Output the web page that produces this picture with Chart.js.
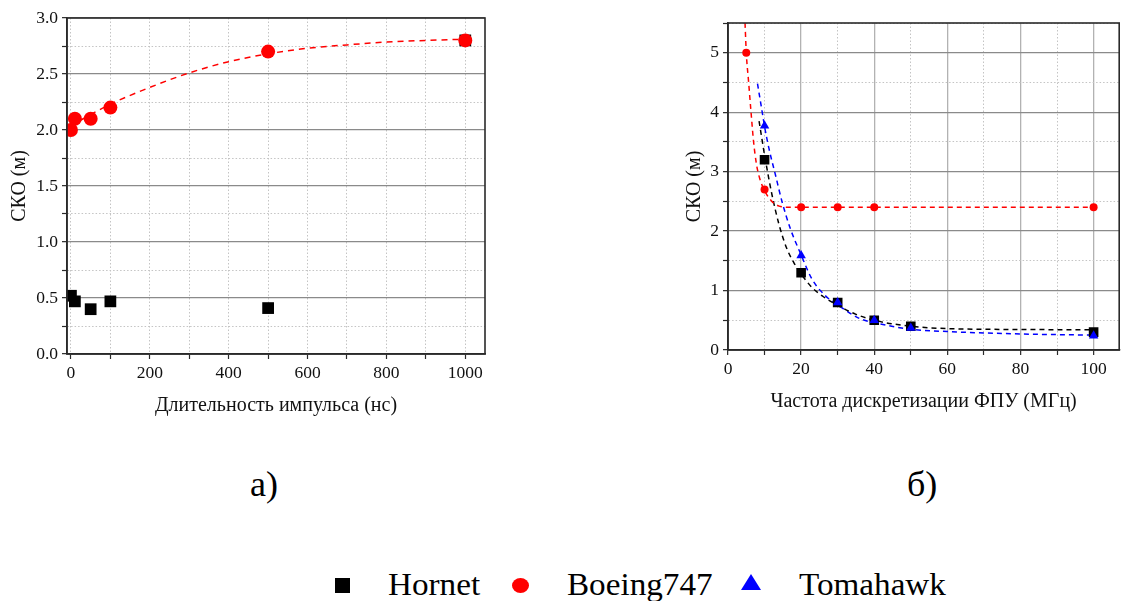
<!DOCTYPE html>
<html>
<head>
<meta charset="utf-8">
<script src="https://cdn.jsdelivr.net/npm/chart.js@4/dist/chart.umd.min.js"></script>
<style>
    html, body { margin: 0; padding: 0; background: #fff; }
    body {
        width: 1126px; height: 601px; position: relative; overflow: hidden;
        font-family: "Liberation Serif", "Times New Roman", serif; color: #000;
    }
    #leftChart { position: absolute; left: 0; top: 0; }
    #rightChart { position: absolute; left: 660px; top: 0; }
    .panel { position: absolute; top: 466px; font-size: 36px; line-height: 1; white-space: nowrap; }
    .leg-text {
        position: absolute; top: 569px; font-size: 31px; line-height: 1; white-space: nowrap;
        transform: scaleX(1.07); transform-origin: left top;
    }
    .mark { position: absolute; }
</style>
</head>
<body>
<canvas id="leftChart" width="510" height="430"></canvas>
<canvas id="rightChart" width="466" height="430"></canvas>

<div class="panel" style="left:250px;">а)</div>
<div class="panel" style="left:907px;">б)</div>

<div class="mark" style="left:335px; top:578px; width:15px; height:15px; background:#000;"></div>
<div class="leg-text" style="left:388px;">Hornet</div>
<div class="mark" style="left:512px; top:578px; width:17px; height:15px; border-radius:50%; background:#ff0000;"></div>
<div class="leg-text" style="left:567px;">Boeing747</div>
<div class="mark" style="left:741px; top:574px; width:0; height:0; border-left:10.5px solid transparent; border-right:10.5px solid transparent; border-bottom:16px solid #0000ff;"></div>
<div class="leg-text" style="left:799px;">Tomahawk</div>

<script>
// --- panel a): pulse duration (ns) ---
const pulseX = [0, 10, 50, 100, 500, 1000];
const hornetPulse = [0.52, 0.47, 0.40, 0.47, 0.41, 2.80];
const boeingPulse = [2.00, 2.10, 2.10, 2.20, 2.70, 2.80];
const boeingPulseFitX = [0, 100, 200, 300, 400, 500, 600, 700, 800, 900, 1000];
const boeingPulseFitY = [2.04, 2.23, 2.38, 2.51, 2.61, 2.68, 2.73, 2.76, 2.785, 2.80, 2.81];

// --- panel б): sampling frequency (MHz) ---
const freqX = [10, 20, 30, 40, 50, 100];
const hornetFreq = [3.2, 1.3, 0.8, 0.5, 0.4, 0.3];
const tomahawkFreq = [3.77, 1.59, 0.8, 0.5, 0.37, 0.24];
const boeingFreqX = [5, 10, 20, 30, 40, 100];
const boeingFreq = [5.0, 2.7, 2.4, 2.4, 2.4, 2.4];

const boeingFreqFitX = [4.66, 5, 5.65, 6.3, 7, 7.8, 8.7, 10, 12, 14, 17, 100];
const boeingFreqFitY = [5.5, 5.0, 4.5, 4.0, 3.5, 3.12, 2.88, 2.68, 2.5, 2.42, 2.4, 2.4];
const hornetFreqFitX = [8.5, 10, 12, 14, 16, 18, 20, 23, 26, 30, 35, 40, 50, 60, 80, 100];
const hornetFreqFitY = [3.85, 3.28, 2.62, 2.1, 1.72, 1.47, 1.28, 1.05, 0.9, 0.75, 0.6, 0.5, 0.4, 0.36, 0.345, 0.34];
const tomahawkFreqFitX = [8.07, 9.2, 10, 11.2, 13, 14.8, 17, 20, 22.9, 26.5, 30, 36, 40, 50, 60, 80, 100];
const tomahawkFreqFitY = [4.48, 4.06, 3.76, 3.39, 2.94, 2.49, 2.05, 1.6, 1.2, 0.92, 0.76, 0.53, 0.46, 0.35, 0.31, 0.27, 0.25];

// tick positions (labelled = major)
const leftXTicks = [0, 100, 200, 300, 400, 500, 600, 700, 800, 900, 1000];
const leftXLabeled = [0, 200, 400, 600, 800, 1000];
const leftYTicks = [0, 0.25, 0.5, 0.75, 1, 1.25, 1.5, 1.75, 2, 2.25, 2.5, 2.75, 3];
const leftYLabeled = [0, 0.5, 1, 1.5, 2, 2.5, 3];
const rightXTicks = [0, 10, 20, 30, 40, 50, 60, 70, 80, 90, 100];
const rightXLabeled = [0, 20, 40, 60, 80, 100];
const rightYTicks = [0, 0.5, 1, 1.5, 2, 2.5, 3, 3.5, 4, 4.5, 5, 5.5];
const rightYLabeled = [0, 1, 2, 3, 4, 5];

const SERIF = '"Liberation Serif", "Times New Roman", serif';
Chart.defaults.font.family = SERIF;
Chart.defaults.color = '#111';

const zip = (xs, ys) => xs.map((x, i) => ({ x: x, y: ys[i] }));

// draws the box round the plot area
const framePlugin = {
    id: 'frame',
    afterDatasetsDraw(chart) {
        const { ctx, chartArea: a } = chart;
        ctx.save();
        ctx.strokeStyle = '#2a2a2a';
        ctx.lineWidth = 1.6;
        ctx.strokeRect(a.left, a.top, a.right - a.left, a.bottom - a.top);
        ctx.restore();
    }
};

function axis(o) {
    return {
        type: 'linear',
        min: o.min,
        max: o.max,
        afterBuildTicks: s => {
            s.ticks = o.ticks.map(v => ({ value: v, major: o.labeled.includes(v) }));
        },
        afterFit: s => {
            if (o.width) s.width = o.width;
            if (o.height) s.height = o.height;
        },
        ticks: {
            autoSkip: false,
            maxRotation: 0,
            padding: 4,
            color: '#111',
            font: { family: SERIF, size: 17.5 },
            callback: (v, i, t) => (t[i] && t[i].major) ? o.fmt(v) : ''
        },
        grid: {
            color: c => (c.tick && c.tick.major && o.solid) ? o.majorColor : '#c4c4c4',
            lineWidth: c => (c.tick && c.tick.major && o.solid) ? 1.3 : 1,
            tickLength: 5,
            tickColor: '#2a2a2a',
            tickWidth: 1.2,
            tickBorderDash: []
        },
        border: {
            display: true,
            color: '#2a2a2a',
            width: 1.6,
            dash: c => (c.tick && c.tick.major && o.solid) ? [] : [1.5, 2]
        },
        title: {
            display: true,
            text: o.title,
            color: '#111',
            font: { family: SERIF, size: 20 },
            padding: o.titlePad
        }
    };
}

function fitLine(xs, ys, color, dash) {
    return {
        data: zip(xs, ys),
        showLine: true,
        pointRadius: 0,
        borderColor: color,
        borderWidth: 1.5,
        borderDash: dash,
        cubicInterpolationMode: 'monotone',
        fill: false,
        order: 5
    };
}

function points(xs, ys, color, style, radius, order) {
    return {
        data: zip(xs, ys),
        showLine: false,
        pointStyle: style,
        pointRadius: radius,
        pointBackgroundColor: color,
        pointBorderWidth: 0,
        order: order
    };
}

const commonOpts = {
    responsive: false,
    animation: false,
    plugins: { legend: { display: false }, tooltip: { enabled: false } }
};

new Chart(document.getElementById('leftChart'), {
    type: 'scatter',
    data: {
        datasets: [
            fitLine(boeingPulseFitX, boeingPulseFitY, '#ff0000', [6, 5]),
            points(pulseX, hornetPulse, '#000000', 'rect', 8.3, 2),
            points(pulseX, boeingPulse, '#ff0000', 'circle', 7, 1)
        ]
    },
    options: Object.assign({}, commonOpts, {
        layout: { padding: { top: 18, right: 25, left: 0, bottom: 0 } },
        scales: {
            x: axis({ min: -10, max: 1050, ticks: leftXTicks, labeled: leftXLabeled, solid: false,
                      fmt: v => String(v), height: 76, title: 'Длительность импульса (нс)',
                      titlePad: { top: 0, bottom: 12 } }),
            y: axis({ min: 0, max: 3, ticks: leftYTicks, labeled: leftYLabeled, solid: true,
                      majorColor: '#8a8a8a', fmt: v => v.toFixed(1), width: 67, title: 'СКО (м)',
                      titlePad: { top: 8, bottom: 0 } })
        }
    }),
    plugins: [framePlugin]
});

new Chart(document.getElementById('rightChart'), {
    type: 'scatter',
    data: {
        datasets: [
            fitLine(boeingFreqFitX, boeingFreqFitY, '#ff0000', [5, 4]),
            fitLine(hornetFreqFitX, hornetFreqFitY, '#000000', [5, 4]),
            fitLine(tomahawkFreqFitX, tomahawkFreqFitY, '#0000ff', [5, 4]),
            points(freqX, hornetFreq, '#000000', 'rect', 6.8, 3),
            points(boeingFreqX, boeingFreq, '#ff0000', 'circle', 4, 2),
            points(freqX, tomahawkFreq, '#0000ff', 'triangle', 5.5, 1)
        ]
    },
    options: Object.assign({}, commonOpts, {
        layout: { padding: { top: 23, right: 1, left: 0, bottom: 0 } },
        scales: {
            x: axis({ min: 0, max: 107, ticks: rightXTicks, labeled: rightXLabeled, solid: true,
                      majorColor: '#b2b2b2', fmt: v => String(v), height: 80,
                      title: 'Частота дискретизации ФПУ (МГц)', titlePad: { top: 0, bottom: 16 } }),
            y: axis({ min: 0, max: 5.5, ticks: rightYTicks, labeled: rightYLabeled, solid: true,
                      majorColor: '#8a8a8a', fmt: v => String(v), width: 68, title: 'СКО (м)',
                      titlePad: { top: 23, bottom: 0 } })
        }
    }),
    plugins: [framePlugin]
});
</script>
</body>
</html>
